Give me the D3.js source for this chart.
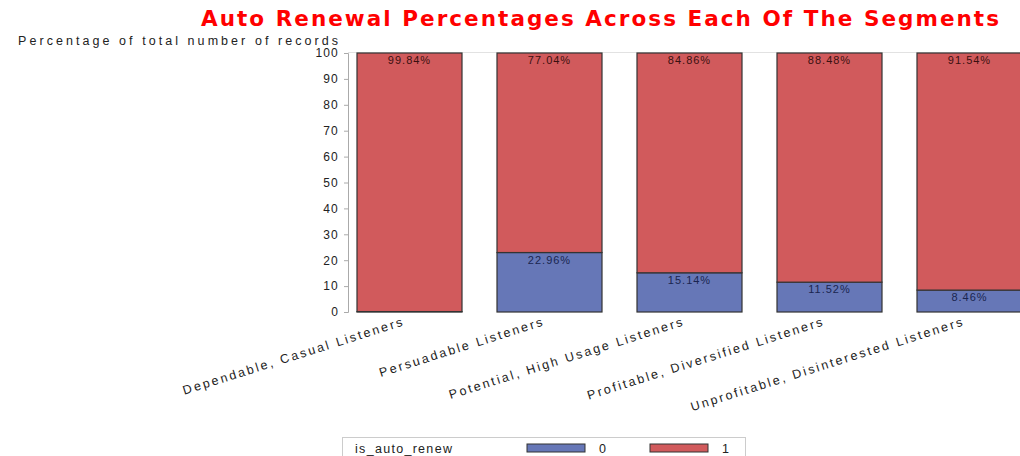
<!DOCTYPE html>
<html><head><meta charset="utf-8">
<script src="https://cdn.jsdelivr.net/npm/d3@7"></script>
<style>body{margin:0;background:#fff}svg{display:block}</style>
</head><body>
<script>
const categories = ["Dependable, Casual Listeners","Persuadable Listeners","Potential, High Usage Listeners","Profitable, Diversified Listeners","Unprofitable, Disinterested Listeners"];
const renew0 = [0.16, 22.96, 15.14, 11.52, 8.46];
const renew1 = [99.84, 77.04, 84.86, 88.48, 91.54];
const yTicks = [0,10,20,30,40,50,60,70,80,90,100];
const seriesKeys = ["0","1"];
const colors = {"0":"#6677b7","1":"#d15a5c"};

const W=1020,H=456;
const svg=d3.select("body").append("svg").attr("width",W).attr("height",H);
const font="Liberation Sans, Arial, sans-serif";

const x=d3.scaleBand().domain(categories).range([339.5,1039.5]).paddingInner(0.25).paddingOuter(0.125);
const y=d3.scaleLinear().domain([0,100]).range([312,53]);

// title
svg.append("text").attr("x",201).attr("y",26).attr("textLength",798).attr("lengthAdjust","spacing")
 .attr("font-family","DejaVu Sans, sans-serif").attr("font-weight","bold").attr("font-size",21.5)
 .attr("fill","#ff0000").text("Auto Renewal Percentages Across Each Of The Segments");

// y title
svg.append("text").attr("x",18).attr("y",45).attr("textLength",320).attr("lengthAdjust","spacing")
 .attr("font-family",font).attr("font-size",12.5).attr("fill","#222").text("Percentage of total number of records");

// top frame line
svg.append("line").attr("x1",348).attr("x2",W).attr("y1",y(100)-0.5).attr("y2",y(100)-0.5).attr("stroke","#e2e2e2");

// y axis
const yAxis=svg.append("g").attr("transform","translate(348,0)")
 .call(d3.axisLeft(y).tickValues(yTicks).tickSize(4).tickPadding(5));
yAxis.select(".domain").attr("stroke","#aaa");
yAxis.selectAll(".tick line").attr("stroke","#aaa");
yAxis.selectAll(".tick text").attr("font-family",font).attr("font-size",12).attr("fill","#222").attr("letter-spacing",1.2);

// stack
const rows=categories.map((c,i)=>({cat:c,"0":renew0[i],"1":renew1[i]}));
const stack=d3.stack().keys(seriesKeys)(rows);
const g=svg.append("g");
stack.forEach(s=>{
  g.selectAll(null).data(s).enter().append("rect")
   .attr("x",d=>x(d.data.cat)).attr("width",x.bandwidth())
   .attr("y",d=>y(d[1])).attr("height",d=>y(d[0])-y(d[1]))
   .attr("fill",colors[s.key]).attr("stroke","#333").attr("stroke-width",1.2);
});
stack.forEach(s=>{
  g.selectAll(null).data(s.filter(d=>d.data[s.key]>=2)).enter().append("text")
   .attr("x",d=>x(d.data.cat)+x.bandwidth()/2).attr("y",d=>y(d[1])+11)
   .attr("text-anchor","middle").attr("font-family",font).attr("font-size",11)
   .attr("letter-spacing",1).attr("fill",s.key==="0"?"#1a2550":"#3a1010")
   .text(d=>d.data[s.key].toFixed(2)+"%");
});

// x labels
svg.append("g").selectAll("text").data(categories).enter().append("text")
 .attr("transform",d=>`translate(${x(d)+x.bandwidth()/2-4},${y(0)+13}) rotate(-17.5)`)
 .attr("text-anchor","end").attr("font-family",font).attr("font-size",12.5)
 .attr("letter-spacing",2.3).attr("fill","#222").text(d=>d);

// legend
const lg=svg.append("g");
lg.append("rect").attr("x",342.5).attr("y",437.5).attr("width",403).attr("height",30).attr("fill","#fff").attr("stroke","#ccc");
lg.append("text").attr("x",355).attr("y",453).attr("font-family",font).attr("font-size",12.5).attr("letter-spacing",1.3).attr("fill","#222").text("is_auto_renew");
const lx=[527,650];
seriesKeys.forEach((k,i)=>{
  lg.append("rect").attr("x",lx[i]).attr("y",444).attr("width",58).attr("height",8).attr("fill",colors[k]).attr("stroke","#333");
  lg.append("text").attr("x",lx[i]+72).attr("y",453).attr("font-family",font).attr("font-size",12.5).attr("fill","#222").text(k);
});
</script>
</body></html>
